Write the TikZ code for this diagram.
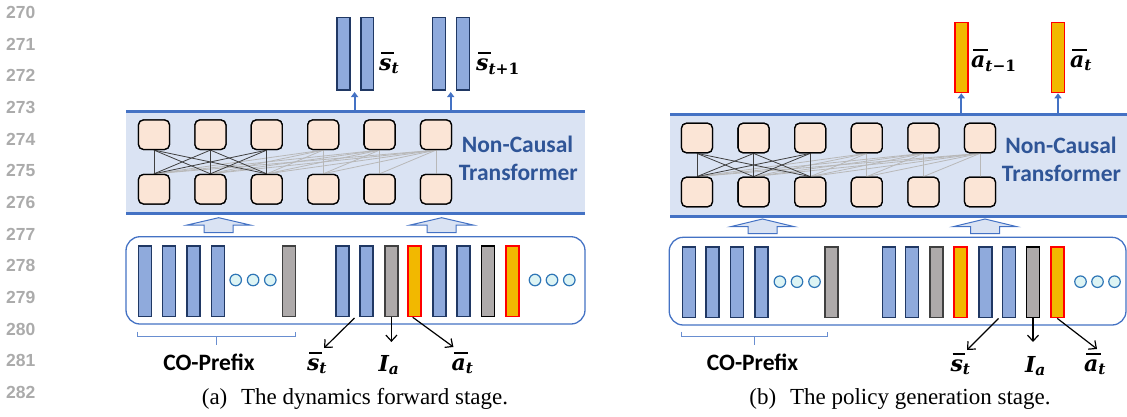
\documentclass[tikz,border=0pt]{standalone}
\usepackage{amsmath}
\usepackage{fontspec}
\setmainfont{Liberation Serif}
\newfontfamily\labelfont{Carlito}
\newfontfamily\numfont{Liberation Sans}
\newfontfamily\symfont{DejaVu Serif}
\usetikzlibrary{arrows.meta}

% bold italic letters for the vector symbols
\newcommand\lv[1]{\text{\symfont\bfseries\itshape #1}}
\newcommand\lu[1]{\text{\symfont\bfseries #1}}
% bold italic letter with a full-width bar over it
\newcommand\ovl[1]{\text{\symfont\bfseries\itshape\setbox0\hbox{#1}%
  \rlap{\hspace{0.1em}\raisebox{0.72em}{\rule{\wd0}{0.09em}}}\box0}}

\definecolor{bandfill}{HTML}{DAE3F3}
\definecolor{bandline}{HTML}{4472C4}
\definecolor{peach}{HTML}{FBE5D6}
\definecolor{barblue}{HTML}{8FAADC}
\definecolor{navy}{HTML}{203864}
\definecolor{tokgray}{HTML}{AEAAAA}
\definecolor{tokgrayedge}{HTML}{404040}
\definecolor{amber}{HTML}{F2B800}
\definecolor{dotfill}{HTML}{DDF4F4}
\definecolor{dotedge}{HTML}{2E75B6}
\definecolor{titleblue}{HTML}{2F5597}
\definecolor{numgray}{HTML}{ABABAB}
\definecolor{connlight}{HTML}{B8B8B8}
\definecolor{conndark}{HTML}{404040}

\tikzset{
  bar/.style={inner sep=0pt, line width=1.6pt, minimum width=13pt, minimum height=70.5pt},
  bbar/.style={bar, draw=navy, fill=barblue},
  gbar/.style={bar, draw=tokgrayedge, fill=tokgray},
  kbar/.style={bar, draw=black, fill=tokgray},
  obar/.style={bar, draw=red, fill=amber},
  tok/.style={draw=black, fill=peach, line width=1.3pt, rounded corners=5pt,
              minimum width=31pt, minimum height=29.5pt, inner sep=0pt},
  dot/.style={circle, draw=dotedge, fill=dotfill, line width=1.2pt,
              minimum size=11.5pt, inner sep=0pt},
  conndk/.style={draw=conndark, line width=0.8pt},
  connlt/.style={draw=connlight, line width=0.8pt},
  bandedge/.style={draw=bandline, line width=3pt},
  inbox/.style={draw=bandline, line width=1.3pt, rounded corners=14pt, fill=white},
  hollow/.style={draw=bandline, line width=1pt, fill=bandfill, line join=miter},
  uparrow/.style={draw=bandline, line width=1.8pt, -{Triangle[length=5pt,width=7pt]}},
  pointer/.style={draw=black, line width=1.2pt, -{Straight Barb[length=6pt,width=11pt]}},
  brace/.style={draw=bandline!80, line width=1pt},
  mathlab/.style={inner sep=0pt, font=\boldmath\fontsize{22}{26}\selectfont},
  boldlab/.style={inner sep=0pt, font=\labelfont\bfseries\fontsize{23.5}{27}\selectfont},
  titlelab/.style={boldlab, text=titleblue},
  caption/.style={inner sep=0pt, font=\fontsize{23}{27}\selectfont},
  linenum/.style={inner sep=0pt, anchor=west, text=numgray,
                  font=\numfont\bfseries\fontsize{17.5}{20}\selectfont},
}

\begin{document}
\begin{tikzpicture}[x=1pt, y=-1pt]
\useasboundingbox (0,0) rectangle (1127,416);

% line numbers down the margin
\foreach \k in {0,...,12}{
  \pgfmathtruncatemacro{\num}{270+\k}
  \node[linenum] (ln\num) at (6, 12.5+31.67*\k) {\num};
}

%% ================= (a) dynamics forward stage =================
% transformer band
\fill[bandfill] (126,111) rectangle (585,213.5);
\draw[bandedge] (126,111) -- (585,111);
\draw[bandedge] (126,213.5) -- (585,213.5);

% token squares
\foreach \k/\x in {1/154,2/210.4,3/266.8,4/323.2,5/379.6,6/436}{
  \coordinate (LTc\k) at (\x,134.7);
  \coordinate (LBc\k) at (\x,189.2);
}
\foreach \k in {1,...,6}{
  \node[tok] (LT\k) at (LTc\k) {};
  \node[tok] (LB\k) at (LBc\k) {};
}
% attention links: causal part light, prefix part dark
\foreach \i in {4,5,6}{
  \foreach \j in {1,...,\i}{
    \draw[connlt] (LT\i.south) -- (LB\j.north);
  }
}
\foreach \i in {1,2,3}{
  \foreach \j in {1,2,3}{
    \draw[conndk] (LT\i.south) -- (LB\j.north);
  }
}
\foreach \k in {1,...,6}{
  \node[tok] at (LTc\k) {};
  \node[tok] at (LBc\k) {};
}

\node[titlelab, anchor=base] (LNC1) at (517.5,152.5) {Non-Causal};
\node[titlelab, anchor=base] (LNC2) at (518.3,180) {Transformer};

% output state vectors
\node[bbar, minimum width=12.8pt, minimum height=72.7pt] (LS1a) at (343.3,53.9) {};
\node[bbar, minimum width=12.8pt, minimum height=72.7pt] (LS1b) at (367.2,53.9) {};
\node[bbar, minimum width=12.8pt, minimum height=72.7pt] (LS2a) at (438.9,53.9) {};
\node[bbar, minimum width=12.8pt, minimum height=72.7pt] (LS2b) at (463,53.9) {};
\node[mathlab, anchor=base west] (LSlab1) at (379,70) {$\ovl{s}_{\lv{t}}$};
\node[mathlab, anchor=base west] (LSlab2) at (476,70) {$\ovl{s}_{\lv{t}\lu{+1}}$};
\coordinate (LUp1s) at (354.6,109.5);
\coordinate (LUp1e) at (354.6,92);
\coordinate (LUp2s) at (450.7,109.5);
\coordinate (LUp2e) at (450.7,92);
\draw[uparrow] (LUp1s) -- (LUp1e);
\draw[uparrow] (LUp2s) -- (LUp2e);

% hollow block arrows
\foreach \cx in {218.7,441.7}{
  \draw[hollow] (\cx,217.7) -- (\cx+31.5,225) -- (\cx+14.5,225) -- (\cx+14.5,232.5)
    -- (\cx-14.5,232.5) -- (\cx-14.5,225) -- (\cx-31.5,225) -- cycle;
}

% input sequence box
\draw[inbox] (126,236.7) rectangle (585,324);
\node[bbar] (LA1) at (145,281.2) {};
\node[bbar] (LA2) at (168.9,281.2) {};
\node[bbar] (LA3) at (193.4,281.2) {};
\node[bbar] (LA4) at (217.9,281.2) {};
\node[dot] (LAd1) at (235.7,280) {};
\node[dot] (LAd2) at (253.1,280) {};
\node[dot] (LAd3) at (270.3,280) {};
\node[gbar] (LAg) at (288.9,281.2) {};

\node[bbar] (LB1s) at (342.5,281.2) {};
\node[bbar] (LB2s) at (366.7,281.2) {};
\node[gbar] (LBg1) at (391.4,281.2) {};
\node[obar] (LBo1) at (414.7,281.2) {};
\node[bbar] (LB3s) at (439.2,281.2) {};
\node[bbar] (LB4s) at (463.4,281.2) {};
\node[kbar] (LBg2) at (487.9,281.2) {};
\node[obar] (LBo2) at (512.2,281.2) {};
\node[dot] (LBd1) at (535,280) {};
\node[dot] (LBd2) at (552,280) {};
\node[dot] (LBd3) at (569.3,280) {};

% prefix bracket
\draw[brace] (137.3,331.7) -- (137.3,336.7) -- (295,336.7) -- (295,331.7);
\draw[brace] (216.8,336.7) -- (216.8,345);
\node[boldlab, anchor=base] (LPre) at (209,370) {CO-Prefix};

% pointers to the token kinds
\coordinate (LPs) at (354.5,318);
\coordinate (LPse) at (324,348);
\coordinate (LPie) at (391.4,342);
\coordinate (LPae) at (453.4,347);
\draw[pointer] (LPs) -- (LPse);
\draw[pointer] (LBg1.south) -- (LPie);
\draw[pointer] ([xshift=-2pt]LBo1.south) -- (LPae);
\node[mathlab, anchor=base] (LLs) at (317,370) {$\ovl{s}_{\lv{t}}$};
\node[mathlab, anchor=base] (LLi) at (389,371) {$\lv{I}_{\lv{a}}$};
\node[mathlab, anchor=base] (LLa) at (462.5,370) {$\ovl{a}_{\lv{t}}$};

\node[caption, anchor=base] (Lcap) at (355,404) {(a)\hspace{0.6em}The dynamics forward stage.};

%% ================= (b) policy generation stage =================
\fill[bandfill] (670,114.5) rectangle (1127,216);
\draw[bandedge] (670,114.5) -- (1127,114.5);
\draw[bandedge] (670,216) -- (1127,216);

\foreach \k/\x in {1/697,2/753.6,3/810.2,4/866.8,5/923.4,6/980}{
  \coordinate (RTc\k) at (\x,138);
  \coordinate (RBc\k) at (\x,192);
}
\foreach \k in {1,...,6}{
  \node[tok] (RT\k) at (RTc\k) {};
  \node[tok] (RB\k) at (RBc\k) {};
}
\foreach \i in {4,5,6}{
  \foreach \j in {1,...,\i}{
    \draw[connlt] (RT\i.south) -- (RB\j.north);
  }
}
\foreach \i in {1,2,3}{
  \foreach \j in {1,2,3}{
    \draw[conndk] (RT\i.south) -- (RB\j.north);
  }
}
\foreach \k in {1,...,6}{
  \node[tok] at (RTc\k) {};
  \node[tok] at (RBc\k) {};
}

\node[titlelab, anchor=base] (RNC1) at (1061,153.5) {Non-Causal};
\node[titlelab, anchor=base] (RNC2) at (1061.5,181) {Transformer};

% output action vectors
\node[obar, minimum height=70pt] (RO1) at (961.3,57.5) {};
\node[obar, minimum height=70pt] (RO2) at (1058,57.5) {};
\node[mathlab, anchor=base west] (ROlab1) at (971,67) {$\ovl{a}_{\lv{t}\lu{−1}}$};
\node[mathlab, anchor=base west] (ROlab2) at (1070,67) {$\ovl{a}_{\lv{t}}$};
\coordinate (RUp1s) at (961.3,113);
\coordinate (RUp2s) at (1058,113);
\draw[uparrow] (RUp1s) -- (RO1.south);
\draw[uparrow] (RUp2s) -- (RO2.south);

\foreach \cx in {762.5,985}{
  \draw[hollow] (\cx,219) -- (\cx+32,226.7) -- (\cx+14.5,226.7) -- (\cx+14.5,233.5)
    -- (\cx-14.5,233.5) -- (\cx-14.5,226.7) -- (\cx-32,226.7) -- cycle;
}

\draw[inbox] (669.2,237.3) rectangle (1126,325);
\node[bbar] (RA1) at (689,282.3) {};
\node[bbar] (RA2) at (712.3,282.3) {};
\node[bbar] (RA3) at (736.9,282.3) {};
\node[bbar] (RA4) at (761.3,282.3) {};
\node[dot] (RAd1) at (779.9,281.7) {};
\node[dot] (RAd2) at (797,281.7) {};
\node[dot] (RAd3) at (814.5,281.7) {};
\node[gbar] (RAg) at (831.3,282.3) {};

\node[bbar] (RB1s) at (888.8,282.3) {};
\node[bbar] (RB2s) at (912.1,282.3) {};
\node[gbar] (RBg1) at (936.5,282.3) {};
\node[obar] (RBo1) at (960.5,282.3) {};
\node[bbar] (RB3s) at (985.5,282.3) {};
\node[bbar] (RB4s) at (1008.8,282.3) {};
\node[kbar] (RBg2) at (1033,282.3) {};
\node[obar] (RBo2) at (1057.2,282.3) {};
\node[dot] (RBd1) at (1080.5,281.7) {};
\node[dot] (RBd2) at (1097.5,281.7) {};
\node[dot] (RBd3) at (1114.5,281.7) {};

\draw[brace] (681.2,331.7) -- (681.2,336.7) -- (827,336.7) -- (827,331.7);
\draw[brace] (754.2,336.7) -- (754.2,345);
\node[boldlab, anchor=base] (RPre) at (752.6,370) {CO-Prefix};

\coordinate (RPs) at (998.5,318.5);
\coordinate (RPse) at (967,350);
\coordinate (RPie) at (1033,342);
\coordinate (RPae) at (1097,349);
\draw[pointer] (RPs) -- (RPse);
\draw[pointer] (RBg2.south) -- (RPie);
\draw[pointer] (RBo2.south) -- (RPae);
\node[mathlab, anchor=base] (RLs) at (960.5,371) {$\ovl{s}_{\lv{t}}$};
\node[mathlab, anchor=base] (RLi) at (1035.5,372) {$\lv{I}_{\lv{a}}$};
\node[mathlab, anchor=base] (RLa) at (1095,371) {$\ovl{a}_{\lv{t}}$};

\node[caption, anchor=base] (Rcap) at (900,404) {(b)\hspace{0.6em}The policy generation stage.};
\end{tikzpicture}
\end{document}
